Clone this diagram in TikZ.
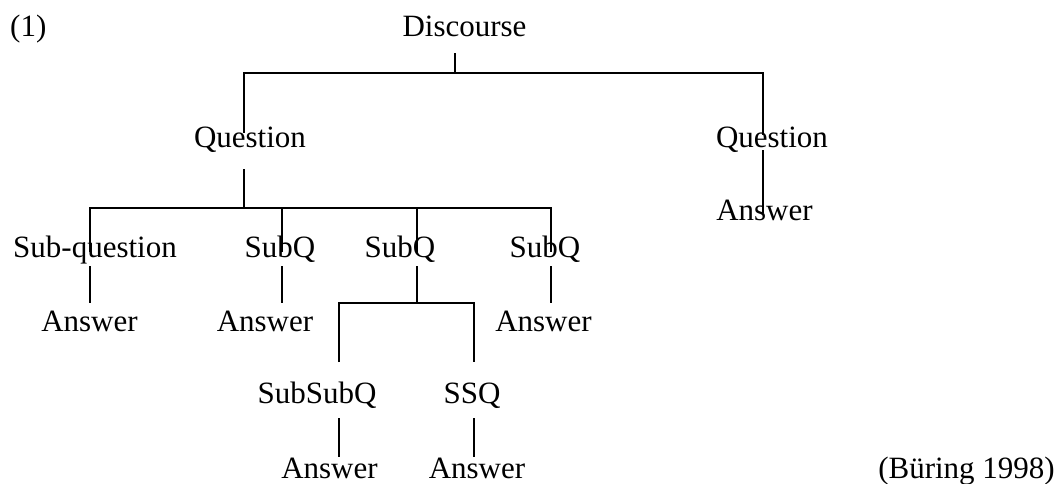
\documentclass[tikz,border=0pt]{standalone}
\usepackage{fontspec}
\setmainfont{Liberation Serif}
\usepackage{tikz}

\begin{document}
\begin{tikzpicture}[
  x=1pt, y=-1pt,
  lbl/.style={inner sep=0pt, anchor=base, font=\fontsize{31}{37}\selectfont},
  edge/.style={line width=1.9pt}]
\useasboundingbox (0,0) rectangle (1058,483);
% labels
\node[lbl, anchor=base west] (ex) at (10,36) {(1)};
\node[lbl] (disc) at (464.5,36) {Discourse};
\node[lbl] (q1) at (250,147) {Question};
\node[lbl] (q2) at (772,147) {Question};
\node[lbl] (a2) at (764.5,220) {Answer};
\node[lbl] (sq1) at (95,257) {Sub-question};
\node[lbl] (sq2) at (280,257) {SubQ};
\node[lbl] (sq3) at (400,257) {SubQ};
\node[lbl] (sq4) at (545,257) {SubQ};
\node[lbl] (a11) at (89.5,331) {Answer};
\node[lbl] (a12) at (265,331) {Answer};
\node[lbl] (a14) at (543.5,331) {Answer};
\node[lbl] (ssq1) at (317,403) {SubSubQ};
\node[lbl] (ssq2) at (472,403) {SSQ};
\node[lbl] (a31) at (329.5,478) {Answer};
\node[lbl] (a32) at (477,478) {Answer};
\node[lbl, anchor=base east] (cite) at (1055,478) {(Büring 1998)};
% Discourse -> Questions
\draw[edge] ([xshift=-9.5pt,yshift=-17pt]disc.base) -- ([xshift=-9.5pt,yshift=-37pt]disc.base);
\draw[edge] ([xshift=-6pt,yshift=14pt]q1.base) |- ([xshift=-9.5pt,yshift=-37pt]disc.base)
  -| ([xshift=-9pt,yshift=12pt]q2.base);
\draw[edge] ([xshift=-9pt,yshift=-3pt]q2.base) -- ([xshift=-1.5pt,yshift=7pt]a2.base);
% Question -> sub-questions
\draw[edge] ([xshift=-6pt,yshift=-22pt]q1.base) -- ([xshift=-6pt,yshift=-61pt]q1.base);
\draw[edge] ([xshift=-5pt,yshift=5pt]sq1.base) |- ([xshift=-6pt,yshift=-61pt]q1.base)
  -| ([xshift=6pt,yshift=5pt]sq4.base);
\draw[edge] ([xshift=2pt,yshift=5pt]sq2.base) -- ([xshift=2pt,yshift=49pt]sq2.base);
\draw[edge] ([xshift=17pt,yshift=5pt]sq3.base) -- ([xshift=17pt,yshift=49pt]sq3.base);
% answers
\draw[edge] ([xshift=-5pt,yshift=-9pt]sq1.base) -- ([xshift=0.5pt,yshift=28pt]a11.base);
\draw[edge] ([xshift=2pt,yshift=-9pt]sq2.base) -- ([xshift=17pt,yshift=28pt]a12.base);
\draw[edge] ([xshift=6pt,yshift=-9pt]sq4.base) -- ([xshift=7.5pt,yshift=28pt]a14.base);
% SubQ -> SubSubQ
\draw[edge] ([xshift=17pt,yshift=-9pt]sq3.base) -- ([xshift=17pt,yshift=-46pt]sq3.base);
\draw[edge] ([xshift=22pt,yshift=41pt]ssq1.base) |- ([xshift=17pt,yshift=-46pt]sq3.base)
  -| ([xshift=2pt,yshift=41pt]ssq2.base);
\draw[edge] ([xshift=22pt,yshift=-15pt]ssq1.base) -- ([xshift=9.5pt,yshift=21pt]a31.base);
\draw[edge] ([xshift=2pt,yshift=-15pt]ssq2.base) -- ([xshift=-3pt,yshift=21pt]a32.base);
\end{tikzpicture}
\end{document}
